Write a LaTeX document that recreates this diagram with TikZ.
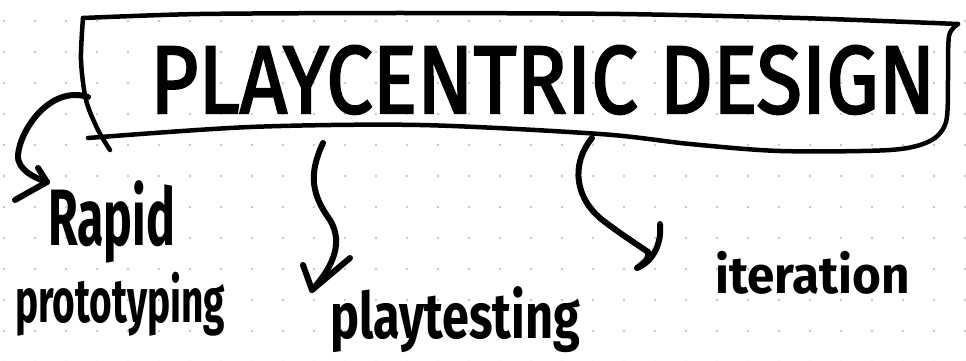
\documentclass[tikz,border=0pt]{standalone}
\usepackage{fontspec}
\setmainfont{Fira Sans}
\newfontfamily\titlefont{Fira Sans}[FakeBold=2.5]
\usepackage{graphicx}
\begin{document}
\begin{tikzpicture}[x=1pt,y=-1pt,
  ink/.style={line width=4.5pt,line cap=round,line join=round},
  pen/.style={line width=6pt,line cap=round,line join=round},
  lbl/.style={inner sep=0pt,anchor=base west,font=\bfseries}]
\useasboundingbox (0,0) rectangle (966,361);
\fill[white] (0,0) rectangle (966,361);
% dotted paper
\foreach \i in {0,...,31}{
  \foreach \j in {0,...,11}{
    \fill[black!22] (4+31*\i,21+31*\j) circle (1.3pt);
  }
}
% title
\node[lbl,font=\titlefont] (title) at (150,113)
  {\resizebox{785pt}{\height}{\fontsize{96}{96}\selectfont PLAYCENTRIC DESIGN}};
% outline around the title
\draw[ink] plot[smooth,tension=0.45] coordinates
  {(83,18) (200,14) (400,13) (620,14) (800,18) (958,24)};
\draw[ink] plot[smooth,tension=0.5] coordinates
  {(958,24) (949,36) (948,80) (946,122) (930,141) (890,150) (780,151)
   (690,144) (600,134) (420,125) (250,127) (88,138)};
\draw[ink] plot[smooth,tension=0.5] coordinates
  {(83,18) (81,60) (86,100) (98,130) (110,150)};
% branch anchors and tips
\coordinate (s1) at (88,97);
\coordinate (t1) at (47,182);
\coordinate (s2) at (323,143);
\coordinate (t2) at (312,290);
\coordinate (s3) at (592,138);
\coordinate (t3) at (648,252);
% labels
\node[lbl] (rapid) at (48,245)
  {\resizebox{127pt}{\height}{\fontsize{80}{80}\selectfont Rapid}};
\node[lbl] (proto) at (15,322)
  {\resizebox{210pt}{\height}{\fontsize{62}{62}\selectfont prototyping}};
\node[lbl] (play) at (330,338)
  {\resizebox{250pt}{\height}{\fontsize{64}{64}\selectfont playtesting}};
\node[lbl] (iter) at (715,293)
  {\resizebox{195pt}{\height}{\fontsize{52}{52}\selectfont iteration}};
% curly connectors
\draw[pen] (s1) .. controls (50,85) and (20,130) .. (18,155)
  .. controls (17,170) and (35,178) .. (t1);
\draw[pen] (38,168) -- (t1) -- (15,200);
\draw[pen] (s2) .. controls (308,175) and (312,195) .. (330,220)
  .. controls (345,245) and (330,270) .. (t2);
\draw[pen] (303,265) -- (t2) -- (350,258);
\draw[pen] (s3) .. controls (570,165) and (575,200) .. (605,222)
  .. controls (625,237) and (638,245) .. (t3);
\draw[pen] (660,224) .. controls (662,245) and (652,262) .. (637,268)
  .. controls (645,262) and (650,258) .. (t3);
\end{tikzpicture}
\end{document}
